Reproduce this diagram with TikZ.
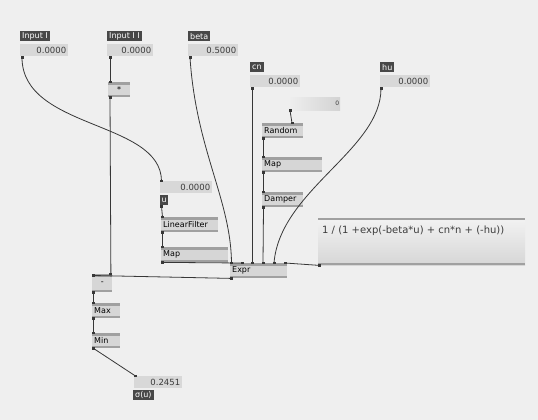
\documentclass[tikz,border=0pt]{standalone}
\usepackage{fontspec}
\setmainfont{DejaVu Sans}
\usetikzlibrary{calc}
\definecolor{bg}{RGB}{239,239,239}
\definecolor{wirec}{RGB}{55,55,55}
\definecolor{lblc}{RGB}{72,72,72}
\definecolor{valc}{RGB}{216,216,216}
\definecolor{nodec}{RGB}{214,214,214}
\definecolor{barc}{RGB}{160,160,160}
\definecolor{txtc}{RGB}{60,60,60}
\begin{document}
\begin{tikzpicture}[x=1pt,y=-1pt,
  lbl/.style={anchor=north west, fill=lblc, text=white, font=\fontsize{8}{9}\selectfont,
    inner xsep=2pt, inner ysep=0pt, minimum height=10pt},
  val/.style={anchor=north west, fill=valc, text=txtc, font=\fontsize{8.5}{9}\selectfont,
    inner xsep=2pt, inner ysep=0pt, minimum height=12pt, text width=#1, align=right},
  vnode/.style={anchor=north west, fill=nodec, text=black, font=\fontsize{8}{9}\selectfont,
    inner xsep=2pt, inner ysep=0pt, minimum height=15pt, text width=#1, align=left,
    path picture={
      \fill[barc] (path picture bounding box.north west) rectangle ([yshift=-2.5pt]path picture bounding box.north east);
      \fill[barc] (path picture bounding box.south west) rectangle ([yshift=2.5pt]path picture bounding box.south east);}},
  wire/.style={draw=wirec, line width=0.8pt},
  pinmark/.style={fill=wirec}
]
\fill[bg] (0,0) rectangle (538,420);
\useasboundingbox (0,0) rectangle (538,420);

% ---- top IO boxes ----
\node[lbl] (lA) at (20,31) {Input I};
\node[val=44pt] (vA) at (20,44) {0.0000};
\node[lbl] (lB) at (107,31) {Input I I};
\node[val=42pt] (vB) at (107,44) {0.0000};
\node[lbl] (lBeta) at (188,31) {beta};
\node[val=46pt] (vBeta) at (188,44) {0.5000};
\node[lbl] (lCn) at (250,62) {cn};
\node[val=46pt] (vCn) at (250,75) {0.0000};
\node[lbl] (lHu) at (380,62) {hu};
\node[val=46pt] (vHu) at (380,75) {0.0000};

% small value box above Random
\node[anchor=north west, left color=bg, right color=gray!35, minimum width=52pt, minimum height=13pt,
  inner sep=0pt] (vSeed) at (288,97) {};
\node[anchor=east, font=\fontsize{6}{7}\selectfont, text=txtc, inner sep=1pt] (vSeedTxt) at (vSeed.east) {0};

% ---- nodes ----
\node[vnode=18pt, align=center] (mul) at (108,82) {*};
\node[vnode=37pt] (random) at (262,123) {Random};
\node[vnode=56pt] (mapR) at (262,157) {Map};
\node[vnode=37pt] (damper) at (262,192) {Damper};

\node[val=48pt] (vU) at (160,181) {0.0000};
\node[lbl, minimum width=8pt, inner xsep=1pt] (lU) at (160,195) {u};
\node[vnode=53pt] (linf) at (161,217) {LinearFilter};
\node[vnode=63pt] (mapL) at (161,247) {Map};
\node[vnode=53pt] (expr) at (230,263) {Expr};

% term box
\node[anchor=north west, top color=gray!10, bottom color=gray!32, minimum width=207pt, minimum height=47pt,
  inner sep=0pt] (term) at (318,218) {};
\fill[barc] (term.north west) rectangle ([yshift=-1.5pt]term.north east);
\fill[barc] (term.south west) rectangle ([yshift=2pt]term.south east);
\node[anchor=west, font=\fontsize{10}{11}\selectfont, text=txtc, inner sep=0pt] (termtxt)
  at ([xshift=4pt,yshift=-13pt]term.north west) {1 / (1 +exp(-beta*u) + cn*n + (-hu))};

% bottom chain
\node[vnode=16pt, minimum height=18pt, align=center] (sub) at (92,274) {-};
\node[vnode=24pt] (max) at (92,303) {Max};
\node[vnode=24pt] (min) at (92,333) {Min};
\node[val=44pt] (vOut) at (134,376) {0.2451};
\node[lbl] (lOut) at (133,390) {σ(u)};

% ---- pin coordinates ----
\coordinate (oA) at ($(vA.south west)+(2,1)$);
\coordinate (oB) at ($(vB.south west)+(3,1)$);
\coordinate (oBeta) at ($(vBeta.south west)+(2,1)$);
\coordinate (oCn) at ($(vCn.south west)+(2,1)$);
\coordinate (oHu) at ($(vHu.south west)+(1,1)$);
\coordinate (oSeed) at ($(vSeed.south west)+(2,0)$);
\coordinate (iMul) at ($(mul.north west)+(2,0)$);
\coordinate (oMul) at ($(mul.south west)+(2,0)$);
\coordinate (iRand) at ($(random.north west)+(30,0)$);
\coordinate (oRand) at ($(random.south west)+(1.5,0)$);
\coordinate (iMapR) at ($(mapR.north west)+(1.5,0)$);
\coordinate (oMapR) at ($(mapR.south west)+(1.5,0)$);
\coordinate (iDamp) at ($(damper.north west)+(1.5,0)$);
\coordinate (oDamp) at ($(damper.south west)+(1.5,0)$);
\coordinate (iU) at ($(vU.north west)+(1.5,0)$);
\coordinate (oU) at ($(lU.south west)+(1.5,1)$);
\coordinate (iLinf) at ($(linf.north west)+(1.5,0)$);
\coordinate (oLinf) at ($(linf.south west)+(1.5,0)$);
\coordinate (iMapL) at ($(mapL.north west)+(1.5,0)$);
\coordinate (oMapL) at ($(mapL.south west)+(1.5,0)$);
\coordinate (e1) at ($(expr.north west)+(1.5,0)$);
\coordinate (e2) at ($(expr.north west)+(12,0)$);
\coordinate (e3) at ($(expr.north west)+(22,0)$);
\coordinate (e4) at ($(expr.north west)+(33,0)$);
\coordinate (e5) at ($(expr.north west)+(44,0)$);
\coordinate (e6) at ($(expr.north west)+(55,0)$);
\coordinate (oExpr) at ($(expr.south west)+(1.5,0)$);
\coordinate (oTerm) at ($(term.south west)+(1.5,0)$);
\coordinate (iSubL) at ($(sub.north west)+(1.5,1.5)$);
\coordinate (iSubR) at ($(sub.north east)+(-1.5,0)$);
\coordinate (oSub) at ($(sub.south west)+(1.5,0)$);
\coordinate (iMax) at ($(max.north west)+(1.5,0)$);
\coordinate (oMax) at ($(max.south west)+(1.5,0)$);
\coordinate (iMin) at ($(min.north west)+(1.5,0)$);
\coordinate (oMin) at ($(min.south west)+(1.5,0)$);
\coordinate (iOut) at ($(vOut.north west)+(1.5,0)$);

% ---- connectors ----
\draw[wire] (oA) .. controls (22,130) and (161,120) .. (iU);
\draw[wire] (oB) -- (iMul);
\draw[wire] (oMul) -- (iSubR);
\draw[wire] (oBeta) .. controls (196,150) and (231,200) .. (e1);
\draw[wire] (oCn) -- (e3);
\draw[wire] (oSeed) -- (iRand);
\draw[wire] (oRand) -- (iMapR);
\draw[wire] (oMapR) -- (iDamp);
\draw[wire] (oDamp) -- (e4);
\draw[wire] (oHu) .. controls (381,150) and (280,190) .. (e5);
\draw[wire] (oU) -- (iLinf);
\draw[wire] (oLinf) -- (iMapL);
\draw[wire] (oMapL) -- (e2);
\draw[wire] (oTerm) -- (e6);
\draw[wire] (oExpr) -- (iSubL);
\draw[wire] (oSub) -- (iMax);
\draw[wire] (oMax) -- (iMin);
\draw[wire] (oMin) -- (iOut);

% pin marks
\foreach \p in {oA,oB,oBeta,oCn,oHu,oSeed,iMul,oMul,iRand,oRand,iMapR,oMapR,iDamp,oDamp,iU,oU,iLinf,oLinf,
  iMapL,oMapL,e1,e2,e3,e4,e5,e6,oExpr,oTerm,iSubL,iSubR,oSub,iMax,oMax,iMin,oMin,iOut}
  \fill[pinmark] ($(\p)+(-1.5,-1.2)$) rectangle ($(\p)+(1.5,1.2)$);
\end{tikzpicture}
\end{document}
